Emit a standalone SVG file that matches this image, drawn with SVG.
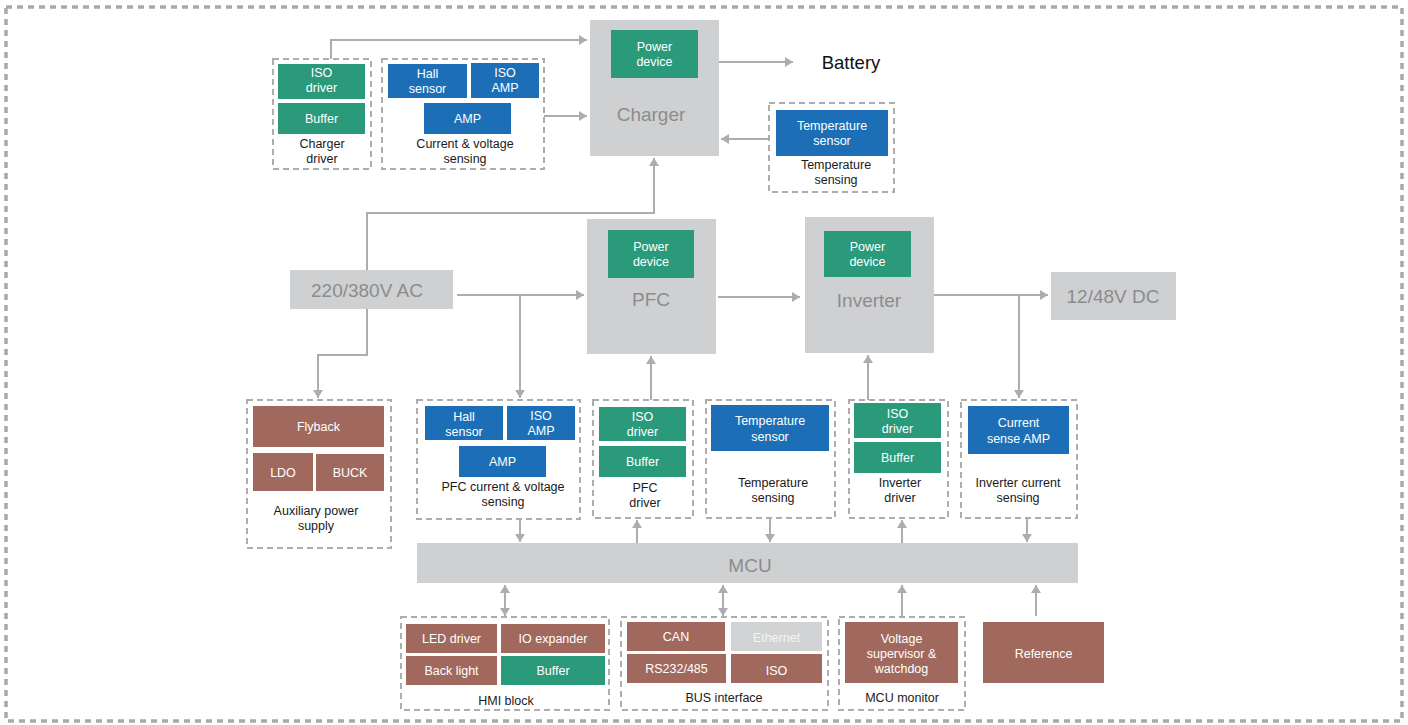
<svg xmlns="http://www.w3.org/2000/svg" width="1408" height="725" viewBox="0 0 1408 725">
<defs>
<marker id="ah" markerUnits="userSpaceOnUse" markerWidth="9" markerHeight="11" refX="8" refY="5" orient="auto-start-reverse" viewBox="0 0 9 10"><path d="M0,0 L8,5 L0,10 z" fill="#abaeb1"/></marker>
<style>
.grp{fill:none;stroke:#adadad;stroke-width:2;stroke-dasharray:6 4}
.gray{fill:#cfd0d2}
.grn{fill:#2b9a7b}
.blu{fill:#1c6fb6}
.brn{fill:#a1695d}
.eth{fill:#d2d3d5}
text{font-family:"Liberation Sans",Arial,sans-serif;text-anchor:middle}
.w{fill:#ffffff;font-size:12.5px}
.c{fill:#1a1a1a;font-size:12.5px}
.big{fill:#8c8c8c;font-size:19px}
.conn path{fill:none;stroke:#abaeb1;stroke-width:2}
</style>
</defs>
<rect x="6" y="7" width="1396" height="714" fill="none" stroke="#a9a9a9" stroke-width="3.5" stroke-dasharray="6 5"/>

<g class="conn">
<path d="M331,59 V40 H587" marker-end="url(#ah)"/>
<path d="M544,116 H587" marker-end="url(#ah)"/>
<path d="M719,62 H793" marker-end="url(#ah)"/>
<path d="M769,139 H721" marker-end="url(#ah)"/>
<path d="M367,270 V213 H654 V158" marker-end="url(#ah)"/>
<path d="M457,295 H584" marker-end="url(#ah)"/>
<path d="M520,295 V398" marker-end="url(#ah)"/>
<path d="M367,309 V355 H318 V398" marker-end="url(#ah)"/>
<path d="M718,297 H800" marker-end="url(#ah)"/>
<path d="M934,295 H1048" marker-end="url(#ah)"/>
<path d="M1019,295 V398" marker-end="url(#ah)"/>
<path d="M651,400 V356" marker-end="url(#ah)"/>
<path d="M868,400 V355" marker-end="url(#ah)"/>
<path d="M520,519 V542" marker-end="url(#ah)"/>
<path d="M637,543 V520" marker-end="url(#ah)"/>
<path d="M770,518 V542" marker-end="url(#ah)"/>
<path d="M902,543 V520" marker-end="url(#ah)"/>
<path d="M1027,518 V542" marker-end="url(#ah)"/>
<path d="M505,585 V616" marker-start="url(#ah)" marker-end="url(#ah)"/>
<path d="M723,585 V616" marker-start="url(#ah)" marker-end="url(#ah)"/>
<path d="M902,617 V585" marker-end="url(#ah)"/>
<path d="M1036,616 V585" marker-end="url(#ah)"/>
</g>

<g id="charger-driver">
<rect class="grp" x="273" y="59" width="98" height="110"/>
<rect class="grn" x="278" y="64" width="87" height="35"/>
<text class="w" x="321.5" y="77">ISO</text><text class="w" x="321.5" y="92">driver</text>
<rect class="grn" x="278" y="103" width="87" height="31"/>
<text class="w" x="321.5" y="123">Buffer</text>
<text class="c" x="322" y="148">Charger</text><text class="c" x="322" y="163">driver</text>
</g>

<g id="charger-sensing">
<rect class="grp" x="382" y="59" width="162" height="110"/>
<rect class="blu" x="388" y="64" width="79" height="34"/>
<text class="w" x="427.5" y="78">Hall</text><text class="w" x="427.5" y="93">sensor</text>
<rect class="blu" x="471" y="63" width="68" height="35"/>
<text class="w" x="505" y="77">ISO</text><text class="w" x="505" y="92">AMP</text>
<rect class="blu" x="424" y="103" width="87" height="31"/>
<text class="w" x="467.5" y="123">AMP</text>
<text class="c" x="465" y="148">Current &amp; voltage</text><text class="c" x="465" y="163">sensing</text>
</g>

<g id="charger">
<rect class="gray" x="590" y="20" width="129" height="136"/>
<rect class="grn" x="611" y="30" width="87" height="48"/>
<text class="w" x="654.5" y="51">Power</text><text class="w" x="654.5" y="66">device</text>
<text class="big" x="651" y="121">Charger</text>
</g>

<g id="battery">
<text x="851" y="69" style="font-size:18.5px;fill:#111">Battery</text>
</g>

<g id="charger-temp">
<rect class="grp" x="769" y="103" width="125" height="89"/>
<rect class="blu" x="776" y="110" width="112" height="46"/>
<text class="w" x="832" y="130">Temperature</text><text class="w" x="832" y="145">sensor</text>
<text class="c" x="836" y="169">Temperature</text><text class="c" x="836" y="184">sensing</text>
</g>

<g id="ac">
<rect class="gray" x="290" y="270" width="163" height="39"/>
<text class="big" x="367" y="297">220/380V AC</text>
</g>

<g id="pfc">
<rect class="gray" x="587" y="219" width="129" height="135"/>
<rect class="grn" x="608" y="230" width="86" height="48"/>
<text class="w" x="651" y="251">Power</text><text class="w" x="651" y="266">device</text>
<text class="big" x="651" y="306">PFC</text>
</g>

<g id="inverter">
<rect class="gray" x="805" y="217" width="129" height="136"/>
<rect class="grn" x="824" y="231" width="87" height="46"/>
<text class="w" x="867.5" y="251">Power</text><text class="w" x="867.5" y="266">device</text>
<text class="big" x="869" y="307">Inverter</text>
</g>

<g id="dc">
<rect class="gray" x="1051" y="272" width="125" height="48"/>
<text class="big" x="1113" y="303">12/48V DC</text>
</g>

<g id="aux">
<rect class="grp" x="247" y="400" width="144" height="148"/>
<rect class="brn" x="253" y="406" width="131" height="41"/>
<text class="w" x="318.5" y="431">Flyback</text>
<rect class="brn" x="253" y="453" width="60" height="38"/>
<text class="w" x="283" y="477">LDO</text>
<rect class="brn" x="316" y="454" width="68" height="37"/>
<text class="w" x="350" y="477">BUCK</text>
<text class="c" x="316" y="515">Auxiliary power</text><text class="c" x="316" y="530">supply</text>
</g>

<g id="pfc-sensing">
<rect class="grp" x="417" y="400" width="163" height="119"/>
<rect class="blu" x="425" y="406" width="78" height="34"/>
<text class="w" x="464" y="421">Hall</text><text class="w" x="464" y="436">sensor</text>
<rect class="blu" x="507" y="406" width="68" height="34"/>
<text class="w" x="541" y="420">ISO</text><text class="w" x="541" y="435">AMP</text>
<rect class="blu" x="459" y="446" width="87" height="31"/>
<text class="w" x="502.5" y="466">AMP</text>
<text class="c" x="503" y="491">PFC current &amp; voltage</text><text class="c" x="503" y="506">sensing</text>
</g>

<g id="pfc-driver">
<rect class="grp" x="593" y="400" width="100" height="118"/>
<rect class="grn" x="599" y="407" width="87" height="34"/>
<text class="w" x="642.5" y="421">ISO</text><text class="w" x="642.5" y="436">driver</text>
<rect class="grn" x="599" y="446" width="87" height="31"/>
<text class="w" x="642.5" y="466">Buffer</text>
<text class="c" x="645" y="492">PFC</text><text class="c" x="645" y="507">driver</text>
</g>

<g id="temp-sensing">
<rect class="grp" x="706" y="400" width="129" height="118"/>
<rect class="blu" x="711" y="405" width="118" height="46"/>
<text class="w" x="770" y="425">Temperature</text><text class="w" x="770" y="441">sensor</text>
<text class="c" x="773" y="487">Temperature</text><text class="c" x="773" y="502">sensing</text>
</g>

<g id="inverter-driver">
<rect class="grp" x="849" y="400" width="99" height="118"/>
<rect class="grn" x="854" y="403" width="87" height="35"/>
<text class="w" x="897.5" y="418">ISO</text><text class="w" x="897.5" y="433">driver</text>
<rect class="grn" x="854" y="442" width="87" height="31"/>
<text class="w" x="897.5" y="462">Buffer</text>
<text class="c" x="900" y="487">Inverter</text><text class="c" x="900" y="502">driver</text>
</g>

<g id="inverter-sensing">
<rect class="grp" x="961" y="400" width="116" height="118"/>
<rect class="blu" x="968" y="406" width="101" height="48"/>
<text class="w" x="1018.5" y="427">Current</text><text class="w" x="1018.5" y="443">sense AMP</text>
<text class="c" x="1018" y="487">Inverter current</text><text class="c" x="1018" y="502">sensing</text>
</g>

<g id="mcu">
<rect class="gray" x="417" y="543" width="661" height="40"/>
<text class="big" x="750" y="572">MCU</text>
</g>

<g id="hmi">
<rect class="grp" x="401" y="617" width="208" height="93"/>
<rect class="brn" x="406" y="624" width="91" height="29"/>
<text class="w" x="451.5" y="643">LED driver</text>
<rect class="brn" x="501" y="624" width="104" height="29"/>
<text class="w" x="553" y="643">IO expander</text>
<rect class="brn" x="406" y="656" width="91" height="29"/>
<text class="w" x="451.5" y="675">Back light</text>
<rect class="grn" x="501" y="656" width="104" height="29"/>
<text class="w" x="553" y="675">Buffer</text>
<text class="c" x="506" y="705">HMI block</text>
</g>

<g id="bus">
<rect class="grp" x="621" y="617" width="207" height="93"/>
<rect class="brn" x="627" y="622" width="98" height="29"/>
<text class="w" x="676" y="641">CAN</text>
<rect class="eth" x="731" y="622" width="91" height="29"/>
<text class="w" x="776.5" y="642" style="fill:#f4f4f4">Ethernet</text>
<rect class="brn" x="627" y="654" width="99" height="29"/>
<text class="w" x="676.5" y="673">RS232/485</text>
<rect class="brn" x="731" y="654" width="91" height="29"/>
<text class="w" x="776.5" y="675">ISO</text>
<text class="c" x="724" y="702">BUS interface</text>
</g>

<g id="mcu-monitor">
<rect class="grp" x="839" y="617" width="126" height="93"/>
<rect class="brn" x="845" y="622" width="113" height="61"/>
<text class="w" x="901.5" y="643">Voltage</text><text class="w" x="901.5" y="658">supervisor &amp;</text><text class="w" x="901.5" y="673">watchdog</text>
<text class="c" x="902" y="702">MCU monitor</text>
</g>

<g id="reference">
<rect class="brn" x="983" y="622" width="121" height="61"/>
<text class="w" x="1043.5" y="658">Reference</text>
</g>
</svg>
